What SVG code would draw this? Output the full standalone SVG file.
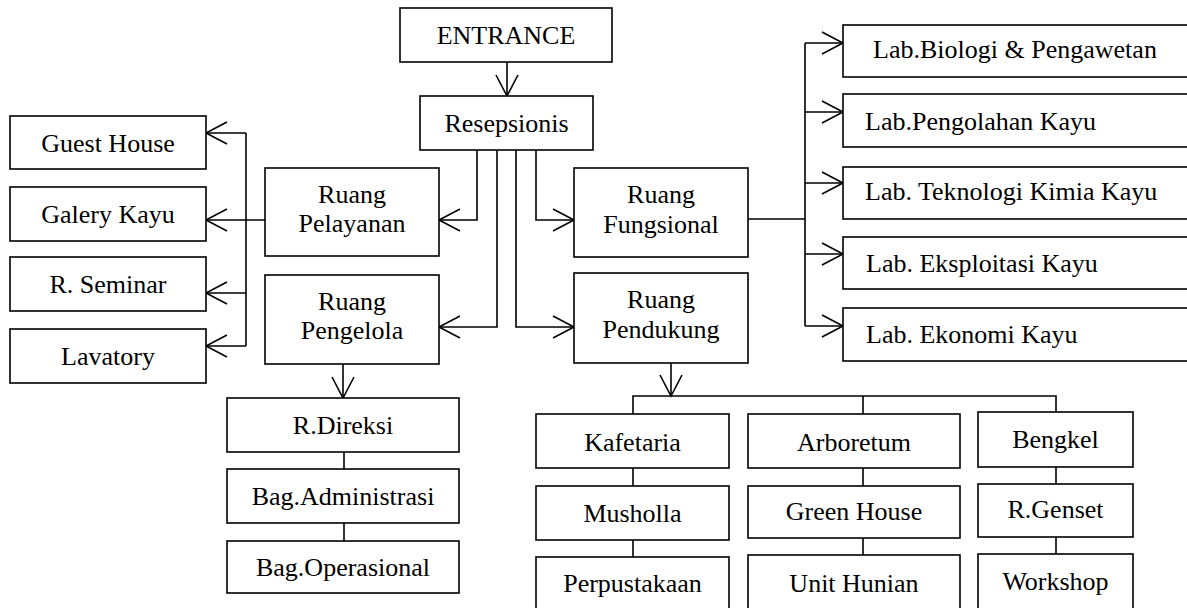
<svg xmlns="http://www.w3.org/2000/svg" width="1187" height="608" viewBox="0 0 1187 608">
<style>
.box{fill:#fff;stroke:#000;stroke-width:1.6}
.t{font-family:"Liberation Serif","Times New Roman",serif;font-size:26px;fill:#000;text-anchor:middle}
.l{text-anchor:start}
.c{fill:none;stroke:#000;stroke-width:1.6}
</style>
<defs>
<marker id="arr" markerUnits="userSpaceOnUse" markerWidth="30" markerHeight="30" viewBox="-25 -15 30 30" refX="0" refY="0" orient="auto" overflow="visible">
<path d="M-21,-11 L0,0 L-21,11" fill="none" stroke="#000" stroke-width="1.6"/>
</marker>
</defs>
<rect width="1187" height="608" fill="#fff"/>
<g id="connectors" class="c">
<path d="M507,62 V96" marker-end="url(#arr)"/>
<path d="M477,150 V220 H439" marker-end="url(#arr)"/>
<path d="M497,150 V327 H439" marker-end="url(#arr)"/>
<path d="M516,150 V327 H574" marker-end="url(#arr)"/>
<path d="M536,150 V220 H574" marker-end="url(#arr)"/>
<path d="M265,220 H206" marker-end="url(#arr)"/>
<path d="M246,346 V133"/>
<path d="M246,133 H206" marker-end="url(#arr)"/>
<path d="M246,293 H206" marker-end="url(#arr)"/>
<path d="M246,346 H206" marker-end="url(#arr)"/>
<path d="M343,364 V398" marker-end="url(#arr)"/>
<path d="M344,452 V469 M344,523 V541"/>
<path d="M748,219 H805 M805,43 V326"/>
<path d="M805,43 H843" marker-end="url(#arr)"/>
<path d="M805,112 H843" marker-end="url(#arr)"/>
<path d="M805,183 H843" marker-end="url(#arr)"/>
<path d="M805,254 H843" marker-end="url(#arr)"/>
<path d="M805,326 H843" marker-end="url(#arr)"/>
<path d="M671,363 V396" marker-end="url(#arr)"/>
<path d="M633,414 V396 H1056 V412 M863,396 V414"/>
<path d="M633,468 V486 M633,540 V557"/>
<path d="M863,468 V486 M863,538 V555"/>
<path d="M1056,467 V484 M1056,537 V554"/>
</g>
<g id="entrance"><rect class="box" x="400" y="8" width="212" height="54"/><text class="t" x="506" y="44">ENTRANCE</text></g>
<g id="resepsionis"><rect class="box" x="420" y="96" width="173" height="54"/><text class="t" x="506.5" y="132">Resepsionis</text></g>
<g id="guest-house"><rect class="box" x="10" y="116" width="196" height="53"/><text class="t" x="108" y="152">Guest House</text></g>
<g id="galery-kayu"><rect class="box" x="10" y="187" width="196" height="54"/><text class="t" x="108" y="223">Galery Kayu</text></g>
<g id="r-seminar"><rect class="box" x="10" y="257" width="196" height="54"/><text class="t" x="108" y="293">R. Seminar</text></g>
<g id="lavatory"><rect class="box" x="10" y="329" width="196" height="54"/><text class="t" x="108" y="365">Lavatory</text></g>
<g id="ruang-pelayanan"><rect class="box" x="265" y="168" width="174" height="88"/><text class="t" x="352" y="203">Ruang</text><text class="t" x="352" y="232">Pelayanan</text></g>
<g id="ruang-pengelola"><rect class="box" x="265" y="275" width="174" height="89"/><text class="t" x="352" y="310">Ruang</text><text class="t" x="352" y="339">Pengelola</text></g>
<g id="ruang-fungsional"><rect class="box" x="574" y="168" width="174" height="89"/><text class="t" x="661" y="203">Ruang</text><text class="t" x="661" y="233">Fungsional</text></g>
<g id="ruang-pendukung"><rect class="box" x="574" y="273" width="174" height="90"/><text class="t" x="661" y="308">Ruang</text><text class="t" x="661" y="338">Pendukung</text></g>
<g id="lab-biologi"><rect class="box" x="843" y="25" width="360" height="52"/><text class="t" x="1015" y="58">Lab.Biologi &amp; Pengawetan</text></g>
<g id="lab-pengolahan"><rect class="box" x="843" y="94" width="360" height="53"/><text class="t l" x="865" y="130">Lab.Pengolahan Kayu</text></g>
<g id="lab-teknologi"><rect class="box" x="843" y="167" width="360" height="52"/><text class="t l" x="865" y="200">Lab. Teknologi Kimia Kayu</text></g>
<g id="lab-eksploitasi"><rect class="box" x="843" y="237" width="360" height="52"/><text class="t l" x="866" y="272">Lab. Eksploitasi Kayu</text></g>
<g id="lab-ekonomi"><rect class="box" x="843" y="308" width="360" height="53"/><text class="t l" x="866" y="343">Lab. Ekonomi Kayu</text></g>
<g id="r-direksi"><rect class="box" x="227" y="398" width="232" height="54"/><text class="t" x="343" y="434">R.Direksi</text></g>
<g id="bag-administrasi"><rect class="box" x="227" y="469" width="232" height="54"/><text class="t" x="343" y="505">Bag.Administrasi</text></g>
<g id="bag-operasional"><rect class="box" x="227" y="541" width="232" height="52"/><text class="t" x="343" y="576">Bag.Operasional</text></g>
<g id="kafetaria"><rect class="box" x="536" y="414" width="193" height="54"/><text class="t" x="632.5" y="451">Kafetaria</text></g>
<g id="musholla"><rect class="box" x="536" y="486" width="193" height="54"/><text class="t" x="632.5" y="522">Musholla</text></g>
<g id="perpustakaan"><rect class="box" x="536" y="557" width="193" height="60"/><text class="t" x="632.5" y="592">Perpustakaan</text></g>
<g id="arboretum"><rect class="box" x="748" y="414" width="212" height="54"/><text class="t" x="854" y="451">Arboretum</text></g>
<g id="green-house"><rect class="box" x="748" y="486" width="212" height="52"/><text class="t" x="854" y="520">Green House</text></g>
<g id="unit-hunian"><rect class="box" x="748" y="555" width="212" height="62"/><text class="t" x="854" y="592">Unit Hunian</text></g>
<g id="bengkel"><rect class="box" x="978" y="412" width="155" height="55"/><text class="t" x="1055.5" y="448">Bengkel</text></g>
<g id="r-genset"><rect class="box" x="978" y="484" width="155" height="53"/><text class="t" x="1055.5" y="518">R.Genset</text></g>
<g id="workshop"><rect class="box" x="978" y="554" width="155" height="63"/><text class="t" x="1055.5" y="590">Workshop</text></g>
</svg>
